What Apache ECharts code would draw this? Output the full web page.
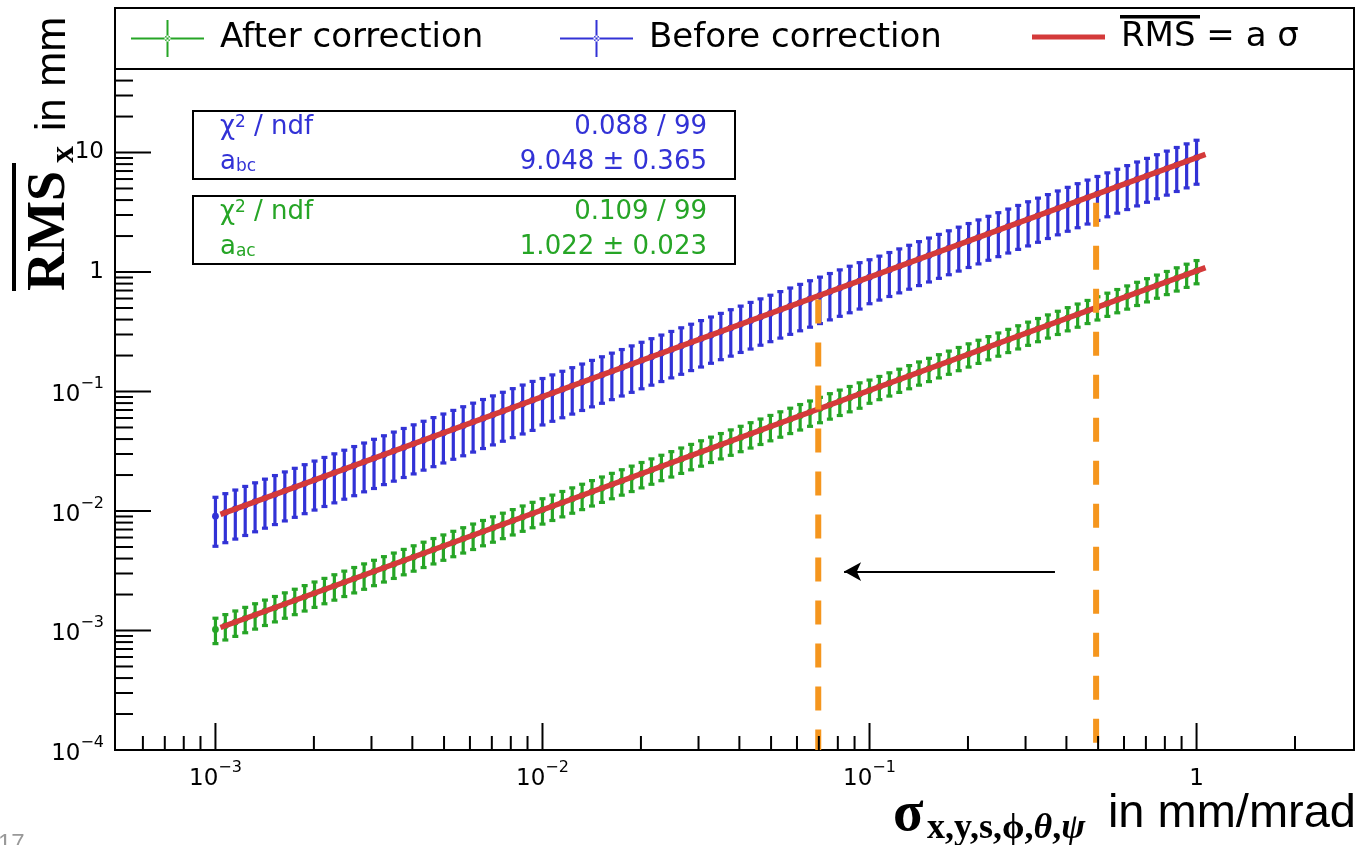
<!DOCTYPE html>
<html>
<head>
<meta charset="utf-8">
<script src="https://cdn.jsdelivr.net/npm/echarts@6/dist/echarts.min.js"></script>
<style>
  html, body { margin: 0; padding: 0; background: #fff; }
  #chart { width: 1362px; height: 845px; }
</style>
</head>
<body>
<div id="chart"></div>
<script>
// sigma values (mm / mrad), 100 points
var sigma = [
  1.000e-3, 1.072e-3, 1.150e-3, 1.233e-3, 1.322e-3, 1.417e-3, 1.520e-3, 1.630e-3, 1.748e-3, 1.874e-3, 2.009e-3,
  2.154e-3, 2.310e-3, 2.477e-3, 2.656e-3, 2.848e-3, 3.054e-3, 3.275e-3, 3.511e-3, 3.765e-3, 4.037e-3, 4.329e-3,
  4.642e-3, 4.977e-3, 5.337e-3, 5.722e-3, 6.136e-3, 6.579e-3, 7.055e-3, 7.565e-3, 8.111e-3, 8.698e-3, 9.326e-3,
  1.000e-2, 1.072e-2, 1.150e-2, 1.233e-2, 1.322e-2, 1.417e-2, 1.520e-2, 1.630e-2, 1.748e-2, 1.874e-2, 2.009e-2,
  2.154e-2, 2.310e-2, 2.477e-2, 2.656e-2, 2.848e-2, 3.054e-2, 3.275e-2, 3.511e-2, 3.765e-2, 4.037e-2, 4.329e-2,
  4.642e-2, 4.977e-2, 5.337e-2, 5.722e-2, 6.136e-2, 6.579e-2, 7.055e-2, 7.565e-2, 8.111e-2, 8.698e-2, 9.326e-2,
  1.000e-1, 1.072e-1, 1.150e-1, 1.233e-1, 1.322e-1, 1.417e-1, 1.520e-1, 1.630e-1, 1.748e-1, 1.874e-1, 2.009e-1,
  2.154e-1, 2.310e-1, 2.477e-1, 2.656e-1, 2.848e-1, 3.054e-1, 3.275e-1, 3.511e-1, 3.765e-1, 4.037e-1, 4.329e-1,
  4.642e-1, 4.977e-1, 5.337e-1, 5.722e-1, 6.136e-1, 6.579e-1, 7.055e-1, 7.565e-1, 8.111e-1, 8.698e-1, 9.326e-1,
  1.000
];
// before correction: mean RMS_x and its error (mm)
var rmsBefore = [
  9.048e-3, 9.702e-3, 10.40e-3, 11.15e-3, 11.96e-3, 12.83e-3, 13.75e-3, 14.75e-3, 15.81e-3, 16.96e-3, 18.18e-3,
  19.49e-3, 20.90e-3, 22.41e-3, 24.03e-3, 25.77e-3, 27.63e-3, 29.63e-3, 31.77e-3, 34.07e-3, 36.53e-3, 39.17e-3,
  42.00e-3, 45.03e-3, 48.29e-3, 51.78e-3, 55.52e-3, 59.53e-3, 63.83e-3, 68.45e-3, 73.39e-3, 78.70e-3, 84.38e-3,
  9.048e-2, 9.702e-2, 10.40e-2, 11.15e-2, 11.96e-2, 12.83e-2, 13.75e-2, 14.75e-2, 15.81e-2, 16.96e-2, 18.18e-2,
  19.49e-2, 20.90e-2, 22.41e-2, 24.03e-2, 25.77e-2, 27.63e-2, 29.63e-2, 31.77e-2, 34.07e-2, 36.53e-2, 39.17e-2,
  42.00e-2, 45.03e-2, 48.29e-2, 51.78e-2, 55.52e-2, 59.53e-2, 63.83e-2, 68.45e-2, 73.39e-2, 78.70e-2, 84.38e-2,
  9.048e-1, 9.702e-1, 10.40e-1, 11.15e-1, 11.96e-1, 12.83e-1, 13.75e-1, 14.75e-1, 15.81e-1, 16.96e-1, 18.18e-1,
  19.49e-1, 20.90e-1, 22.41e-1, 24.03e-1, 25.77e-1, 27.63e-1, 29.63e-1, 31.77e-1, 34.07e-1, 36.53e-1, 39.17e-1,
  42.00e-1, 45.03e-1, 48.29e-1, 51.78e-1, 55.52e-1, 59.53e-1, 63.83e-1, 68.45e-1, 73.39e-1, 78.70e-1, 84.38e-1,
  9.048
];
var errBefore = [
  3.98e-3, 4.27e-3, 4.58e-3, 4.91e-3, 5.26e-3, 5.65e-3, 6.05e-3, 6.49e-3, 6.96e-3, 7.46e-3, 8.00e-3,
  8.58e-3, 9.20e-3, 9.86e-3, 10.6e-3, 11.3e-3, 12.2e-3, 13.0e-3, 14.0e-3, 15.0e-3, 16.1e-3, 17.2e-3,
  18.5e-3, 19.8e-3, 21.2e-3, 22.8e-3, 24.4e-3, 26.2e-3, 28.1e-3, 30.1e-3, 32.3e-3, 34.6e-3, 37.1e-3,
  3.80e-2, 4.07e-2, 4.37e-2, 4.68e-2, 5.02e-2, 5.39e-2, 5.78e-2, 6.20e-2, 6.64e-2, 7.12e-2, 7.64e-2,
  8.19e-2, 8.78e-2, 9.41e-2, 10.1e-2, 10.8e-2, 11.6e-2, 12.4e-2, 13.3e-2, 14.3e-2, 15.3e-2, 16.5e-2,
  17.6e-2, 18.9e-2, 20.3e-2, 21.7e-2, 23.3e-2, 25.0e-2, 26.8e-2, 28.7e-2, 30.8e-2, 33.1e-2, 35.4e-2,
  3.62e-1, 3.88e-1, 4.16e-1, 4.46e-1, 4.78e-1, 5.13e-1, 5.50e-1, 5.90e-1, 6.32e-1, 6.78e-1, 7.27e-1,
  7.80e-1, 8.36e-1, 8.96e-1, 9.61e-1, 10.3e-1, 11.1e-1, 11.9e-1, 12.7e-1, 13.6e-1, 14.6e-1, 15.7e-1,
  16.8e-1, 18.0e-1, 19.3e-1, 20.7e-1, 22.2e-1, 23.8e-1, 25.5e-1, 27.4e-1, 29.4e-1, 31.5e-1, 33.8e-1,
  3.62
];
// after correction
var rmsAfter = [
  1.022e-3, 1.096e-3, 1.175e-3, 1.260e-3, 1.351e-3, 1.449e-3, 1.553e-3, 1.666e-3, 1.786e-3, 1.915e-3, 2.054e-3,
  2.202e-3, 2.361e-3, 2.532e-3, 2.715e-3, 2.911e-3, 3.121e-3, 3.347e-3, 3.588e-3, 3.848e-3, 4.126e-3, 4.424e-3,
  4.744e-3, 5.087e-3, 5.454e-3, 5.848e-3, 6.271e-3, 6.724e-3, 7.210e-3, 7.731e-3, 8.290e-3, 8.889e-3, 9.531e-3,
  1.022e-2, 1.096e-2, 1.175e-2, 1.260e-2, 1.351e-2, 1.449e-2, 1.553e-2, 1.666e-2, 1.786e-2, 1.915e-2, 2.054e-2,
  2.202e-2, 2.361e-2, 2.532e-2, 2.715e-2, 2.911e-2, 3.121e-2, 3.347e-2, 3.588e-2, 3.848e-2, 4.126e-2, 4.424e-2,
  4.744e-2, 5.087e-2, 5.454e-2, 5.848e-2, 6.271e-2, 6.724e-2, 7.210e-2, 7.731e-2, 8.290e-2, 8.889e-2, 9.531e-2,
  1.022e-1, 1.096e-1, 1.175e-1, 1.260e-1, 1.351e-1, 1.449e-1, 1.553e-1, 1.666e-1, 1.786e-1, 1.915e-1, 2.054e-1,
  2.202e-1, 2.361e-1, 2.532e-1, 2.715e-1, 2.911e-1, 3.121e-1, 3.347e-1, 3.588e-1, 3.848e-1, 4.126e-1, 4.424e-1,
  4.744e-1, 5.087e-1, 5.454e-1, 5.848e-1, 6.271e-1, 6.724e-1, 7.210e-1, 7.731e-1, 8.290e-1, 8.889e-1, 9.531e-1,
  1.022
];
var errAfter = [
  0.245e-3, 0.263e-3, 0.282e-3, 0.302e-3, 0.324e-3, 0.348e-3, 0.373e-3, 0.400e-3, 0.429e-3, 0.460e-3, 0.493e-3,
  0.528e-3, 0.567e-3, 0.608e-3, 0.652e-3, 0.699e-3, 0.749e-3, 0.803e-3, 0.861e-3, 0.924e-3, 0.990e-3, 1.06e-3,
  1.14e-3, 1.22e-3, 1.31e-3, 1.40e-3, 1.51e-3, 1.61e-3, 1.73e-3, 1.86e-3, 1.99e-3, 2.13e-3, 2.29e-3,
  0.245e-2, 0.263e-2, 0.282e-2, 0.302e-2, 0.324e-2, 0.348e-2, 0.373e-2, 0.400e-2, 0.429e-2, 0.460e-2, 0.493e-2,
  0.528e-2, 0.567e-2, 0.608e-2, 0.652e-2, 0.699e-2, 0.749e-2, 0.803e-2, 0.861e-2, 0.924e-2, 0.990e-2, 1.06e-2,
  1.14e-2, 1.22e-2, 1.31e-2, 1.40e-2, 1.51e-2, 1.61e-2, 1.73e-2, 1.86e-2, 1.99e-2, 2.13e-2, 2.29e-2,
  0.225e-1, 0.241e-1, 0.259e-1, 0.277e-1, 0.297e-1, 0.319e-1, 0.342e-1, 0.367e-1, 0.393e-1, 0.421e-1, 0.452e-1,
  0.484e-1, 0.519e-1, 0.557e-1, 0.597e-1, 0.640e-1, 0.687e-1, 0.736e-1, 0.789e-1, 0.847e-1, 0.908e-1, 0.973e-1,
  1.04e-1, 1.12e-1, 1.20e-1, 1.29e-1, 1.38e-1, 1.48e-1, 1.59e-1, 1.70e-1, 1.82e-1, 1.96e-1, 2.10e-1,
  0.225
];
// fitted lines RMS = a*sigma, drawn over the fit range
var fitRange = [1.036e-3, 1.065];
var fitBefore = [9.374e-3, 9.636];
var fitAfter = [1.059e-3, 1.088];
// orange markers: [sigma, top of line]
var cutLow = [0.0697, 0.59];
var cutHigh = [0.493, 3.8];
var arrowFrom = [0.369, 3.11e-3];
var arrowTo = [0.0836, 3.11e-3];
// axis ticks
var xMajor = [1e-3, 1e-2, 1e-1, 1];
var xMinor = [6e-4, 7e-4, 8e-4, 9e-4,
  2e-3, 3e-3, 4e-3, 5e-3, 6e-3, 7e-3, 8e-3, 9e-3,
  2e-2, 3e-2, 4e-2, 5e-2, 6e-2, 7e-2, 8e-2, 9e-2,
  0.2, 0.3, 0.4, 0.5, 0.6, 0.7, 0.8, 0.9, 2];
var yMajor = [1e-4, 1e-3, 1e-2, 1e-1, 1, 10];
var yMinor = [2e-4, 3e-4, 4e-4, 5e-4, 6e-4, 7e-4, 8e-4, 9e-4,
  2e-3, 3e-3, 4e-3, 5e-3, 6e-3, 7e-3, 8e-3, 9e-3,
  2e-2, 3e-2, 4e-2, 5e-2, 6e-2, 7e-2, 8e-2, 9e-2,
  0.2, 0.3, 0.4, 0.5, 0.6, 0.7, 0.8, 0.9,
  2, 3, 4, 5, 6, 7, 8, 9, 20, 30, 40];

var GREEN = '#26a526', BLUE = '#3232d6', RED = '#d43a3a', ORANGE = '#f5961e';
var SANS = 'DejaVu Sans';

var chart = echarts.init(document.getElementById('chart'));

function errorBars(params, api) {
  var x = api.value(0), y = api.value(1), e = api.value(2);
  var c = api.coord([x, y]);
  var lo = api.coord([x, y - e]);
  var hi = api.coord([x, y + e]);
  var col = api.visual('color');
  var st = { stroke: col, lineWidth: 3.2 };
  return {
    type: 'group',
    children: [
      { type: 'line', shape: { x1: c[0], y1: lo[1], x2: c[0], y2: hi[1] }, style: st },
      { type: 'line', shape: { x1: c[0] - 3, y1: lo[1], x2: c[0] + 3, y2: lo[1] }, style: st },
      { type: 'line', shape: { x1: c[0] - 3, y1: hi[1], x2: c[0] + 3, y2: hi[1] }, style: st },
      { type: 'circle', shape: { cx: c[0], cy: c[1], r: 3.4 }, style: { fill: col } }
    ]
  };
}

// ticks drawn from the axis scales (log minor ticks at 2..9)
function xTicks(len) {
  return function (params, api) {
    var p = api.coord([api.value(0), 1]);
    var y0 = params.coordSys.y + params.coordSys.height;
    return { type: 'line', shape: { x1: p[0], y1: y0, x2: p[0], y2: y0 - len }, style: { stroke: '#000', lineWidth: 2 } };
  };
}
function yTicks(len) {
  return function (params, api) {
    var p = api.coord([1e-3, api.value(1)]);
    var x0 = params.coordSys.x;
    return { type: 'line', shape: { x1: x0, y1: p[1], x2: x0 + len, y2: p[1] }, style: { stroke: '#000', lineWidth: 2 } };
  };
}

function powX(v) {
  var k = Math.log10(v), r = Math.round(k);
  if (Math.abs(k - r) > 1e-6) return '';
  if (r === 0) return '{b|1}';
  if (r === 1) return '{b|10}';
  return '{b|10}{s|\u2212' + (-r) + '}';
}
function powY(v) {
  var k = Math.log10(v), r = Math.round(k);
  if (Math.abs(k - r) > 1e-6) return '';
  if (r === 0) return '{n|1}';
  if (r === 1) return '{n|10}';
  return '{b|10}{s|\u2212' + (-r) + '}';
}
var labelRich = {
  n: { fontSize: 23, fontFamily: SANS, color: '#000' },
  b: { fontSize: 23, fontFamily: SANS, color: '#000', lineHeight: 31, verticalAlign: 'bottom' },
  s: { fontSize: 16, fontFamily: SANS, color: '#000', lineHeight: 16, verticalAlign: 'top' }
};

var crossIcon = 'path://M0,17.5L73,17.5L73,19.5L0,19.5Z M35.5,0L37.5,0L37.5,37L35.5,37Z M33.5,18.5A3,3 0 1,0 39.5,18.5A3,3 0 1,0 33.5,18.5Z';
var barIcon = 'path://M0,0L72,0L72,5L0,5Z';
var legendBase = {
  orient: 'horizontal', top: 20, padding: 0, itemWidth: 73, itemHeight: 37,
  selectedMode: false,
  textStyle: { fontSize: 34, fontFamily: SANS, color: '#000', padding: [0, 0, 0, 11] }
};

var option = {
  animation: false,
  backgroundColor: '#fff',
  grid: { left: 115, top: 69, width: 1239, height: 681, show: true, borderColor: '#000', borderWidth: 2, backgroundColor: 'transparent' },
  legend: [
    Object.assign({ left: 131, data: [{ name: 'After correction', icon: crossIcon }] }, legendBase),
    Object.assign({ left: 560, data: [{ name: 'Before correction', icon: crossIcon }] }, legendBase),
    Object.assign({ left: 1032, data: [{ name: 'RMS = a \u03c3', icon: barIcon }] }, legendBase)
  ],
  xAxis: {
    type: 'log', logBase: 10, min: 4.93e-4, max: 3.03,
    axisLine: { show: false }, axisTick: { show: false }, splitLine: { show: false },
    axisLabel: { margin: 10, fontSize: 23, fontFamily: SANS, color: '#000', formatter: powX, rich: labelRich, showMinLabel: true, showMaxLabel: true }
  },
  yAxis: {
    type: 'log', logBase: 10, min: 1e-4, max: 50,
    axisLine: { show: false }, axisTick: { show: false }, splitLine: { show: false },
    axisLabel: { margin: 11, fontSize: 23, fontFamily: SANS, color: '#000', formatter: powY, rich: labelRich }
  },
  series: [
    { type: 'custom', silent: true, renderItem: xTicks(27), data: xMajor.map(function (v) { return [v, 1]; }), z: 5 },
    { type: 'custom', silent: true, renderItem: xTicks(14), data: xMinor.map(function (v) { return [v, 1]; }), z: 5 },
    { type: 'custom', silent: true, renderItem: yTicks(36), data: yMajor.map(function (v) { return [1e-3, v]; }), z: 5 },
    { type: 'custom', silent: true, renderItem: yTicks(18), data: yMinor.map(function (v) { return [1e-3, v]; }), z: 5 },
    {
      name: 'After correction', type: 'custom', renderItem: errorBars, itemStyle: { color: GREEN }, z: 2,
      data: sigma.map(function (s, i) { return [s, rmsAfter[i], errAfter[i]]; })
    },
    {
      name: 'Before correction', type: 'custom', renderItem: errorBars, itemStyle: { color: BLUE }, z: 2,
      data: sigma.map(function (s, i) { return [s, rmsBefore[i], errBefore[i]]; })
    },
    {
      name: 'RMS = a \u03c3', type: 'line', showSymbol: false, z: 3, color: RED,
      lineStyle: { color: RED, width: 5.5 },
      data: [[fitRange[0], fitBefore[0]], [fitRange[1], fitBefore[1]]]
    },
    {
      name: 'RMS = a \u03c3', type: 'line', showSymbol: false, z: 3, color: RED,
      lineStyle: { color: RED, width: 5.5 },
      data: [[fitRange[0], fitAfter[0]], [fitRange[1], fitAfter[1]]]
    },
    {
      name: 'cut1', type: 'line', showSymbol: false, z: 4, silent: true,
      lineStyle: { color: ORANGE, width: 6, type: [24, 19], cap: 'butt' },
      data: [[cutLow[0], cutLow[1]], [cutLow[0], 1e-4]]
    },
    {
      name: 'cut2', type: 'line', showSymbol: false, z: 4, silent: true,
      lineStyle: { color: ORANGE, width: 6, type: [24, 19], cap: 'butt' },
      data: [[cutHigh[0], cutHigh[1]], [cutHigh[0], 1e-4]]
    },
    {
      name: 'arrow', type: 'line', data: [], z: 6,
      markLine: {
        silent: true, animation: false, symbol: ['none', 'arrow'], symbolSize: [14, 17],
        label: { show: false },
        lineStyle: { color: '#000', width: 2, type: 'solid' },
        data: [[{ coord: arrowFrom }, { coord: arrowTo }]]
      }
    }
  ],
  graphic: [
    // legend frame
    { type: 'rect', shape: { x: 115, y: 8, width: 1239, height: 61 }, style: { fill: 'none', stroke: '#000', lineWidth: 2 }, z: 10 },
    { type: 'rect', shape: { x: 1120, y: 15, width: 80, height: 3.5 }, style: { fill: '#000' }, z: 10 },
    // fit boxes
    { type: 'rect', shape: { x: 193, y: 111, width: 542, height: 68 }, style: { fill: '#fff', stroke: '#000', lineWidth: 2 }, z: 10 },
    { type: 'text', x: 220, y: 127, z: 11, style: { text: '{a|\u03c7}{s|2}{a| / ndf}', verticalAlign: 'middle', rich: { a: { fontSize: 26, fontFamily: SANS, fill: BLUE }, s: { fontSize: 17, fontFamily: SANS, fill: BLUE, verticalAlign: 'top', lineHeight: 17 } } } },
    { type: 'text', x: 707, y: 127, z: 11, style: { text: '0.088 / 99', align: 'right', verticalAlign: 'middle', fontSize: 26, fontFamily: SANS, fill: BLUE } },
    { type: 'text', x: 220, y: 162, z: 11, style: { text: '{a|a}{u|bc}', verticalAlign: 'middle', rich: { a: { fontSize: 26, fontFamily: SANS, fill: BLUE, verticalAlign: 'top', lineHeight: 26 }, u: { fontSize: 17, fontFamily: SANS, fill: BLUE, verticalAlign: 'bottom', lineHeight: 17 } } } },
    { type: 'text', x: 707, y: 162, z: 11, style: { text: '9.048 \u00b1 0.365', align: 'right', verticalAlign: 'middle', fontSize: 26, fontFamily: SANS, fill: BLUE } },
    { type: 'rect', shape: { x: 193, y: 196, width: 542, height: 68 }, style: { fill: '#fff', stroke: '#000', lineWidth: 2 }, z: 10 },
    { type: 'text', x: 220, y: 212, z: 11, style: { text: '{a|\u03c7}{s|2}{a| / ndf}', verticalAlign: 'middle', rich: { a: { fontSize: 26, fontFamily: SANS, fill: GREEN }, s: { fontSize: 17, fontFamily: SANS, fill: GREEN, verticalAlign: 'top', lineHeight: 17 } } } },
    { type: 'text', x: 707, y: 212, z: 11, style: { text: '0.109 / 99', align: 'right', verticalAlign: 'middle', fontSize: 26, fontFamily: SANS, fill: GREEN } },
    { type: 'text', x: 220, y: 247, z: 11, style: { text: '{a|a}{u|ac}', verticalAlign: 'middle', rich: { a: { fontSize: 26, fontFamily: SANS, fill: GREEN, verticalAlign: 'top', lineHeight: 26 }, u: { fontSize: 17, fontFamily: SANS, fill: GREEN, verticalAlign: 'bottom', lineHeight: 17 } } } },
    { type: 'text', x: 707, y: 247, z: 11, style: { text: '1.022 \u00b1 0.023', align: 'right', verticalAlign: 'middle', fontSize: 26, fontFamily: SANS, fill: GREEN } },
    // y axis title (rotated)
    { type: 'text', x: 50, y: 291, rotation: Math.PI / 2, style: { text: 'RMS', align: 'left', verticalAlign: 'middle', fontSize: 54, fontWeight: 'bold', fontFamily: 'Liberation Serif', fill: '#000' } },
    { type: 'rect', shape: { x: 12, y: 163, width: 4, height: 128 }, style: { fill: '#000' } },
    { type: 'text', x: 64, y: 163, rotation: Math.PI / 2, style: { text: 'x', align: 'left', verticalAlign: 'middle', fontSize: 34, fontWeight: 'bold', fontFamily: 'Liberation Serif', fill: '#000' } },
    { type: 'text', x: 53, y: 131, rotation: Math.PI / 2, style: { text: 'in mm', align: 'left', verticalAlign: 'middle', fontSize: 42, fontFamily: 'Liberation Sans', fill: '#000' } },
    // x axis title
    { type: 'text', x: 893, y: 844, style: { text: '\u03c3', align: 'left', verticalAlign: 'bottom', fontSize: 56, fontWeight: 'bold', fontFamily: 'Liberation Serif', fill: '#000' } },
    { type: 'text', x: 927, y: 847, style: { text: '{u|x,y,s,\u03d5,}{i|\u03b8}{u|,}{i|\u03c8}', align: 'left', verticalAlign: 'bottom', rich: { u: { fontSize: 36, fontWeight: 'bold', fontFamily: 'Liberation Serif, DejaVu Serif', fill: '#000' }, i: { fontSize: 36, fontWeight: 'bold', fontStyle: 'italic', fontFamily: 'Liberation Serif, DejaVu Serif', fill: '#000' } } } },
    { type: 'text', x: 1356, y: 838, style: { text: 'in mm/mrad', align: 'right', verticalAlign: 'bottom', fontSize: 47, fontFamily: 'Liberation Sans', fill: '#000' } },
    // slide page number
    { type: 'text', x: -2, y: 832, style: { text: '17', align: 'left', verticalAlign: 'top', fontSize: 24, fontFamily: 'Liberation Sans', fill: '#999' } }
  ]
};

chart.setOption(option);
</script>
</body>
</html>
